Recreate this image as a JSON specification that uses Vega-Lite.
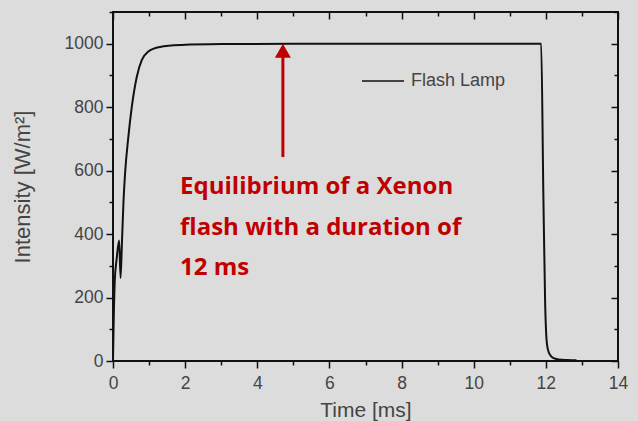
{
  "$schema": "https://vega.github.io/schema/vega-lite/v6.json",
  "width": 505,
  "height": 349,
  "autosize": "none",
  "padding": {"left": 113, "top": 12, "right": 20, "bottom": 60},
  "background": "#dcdcdc",
  "config": {
    "view": {"stroke": "#111111", "strokeWidth": 2},
    "axis": {
      "domain": false,
      "grid": false,
      "tickColor": "#111111",
      "tickWidth": 1.5,
      "labelFont": "Liberation Sans",
      "labelFontSize": 17.5,
      "labelColor": "#444444",
      "titleFont": "Liberation Sans",
      "titleFontSize": 21,
      "titleFontWeight": "normal",
      "titleColor": "#444444"
    },
    "legend": {
      "labelFont": "Liberation Sans",
      "labelFontSize": 18,
      "labelColor": "#444444"
    }
  },
  "datasets": {
    "lamp": [
      {"t": 0, "I": 0, "series": "Flash Lamp"},
      {"t": 0.02, "I": 130, "series": "Flash Lamp"},
      {"t": 0.05, "I": 255, "series": "Flash Lamp"},
      {"t": 0.1, "I": 320, "series": "Flash Lamp"},
      {"t": 0.17, "I": 380, "series": "Flash Lamp"},
      {"t": 0.21, "I": 262, "series": "Flash Lamp"},
      {"t": 0.25, "I": 380, "series": "Flash Lamp"},
      {"t": 0.29, "I": 500, "series": "Flash Lamp"},
      {"t": 0.34, "I": 600, "series": "Flash Lamp"},
      {"t": 0.42, "I": 700, "series": "Flash Lamp"},
      {"t": 0.52, "I": 800, "series": "Flash Lamp"},
      {"t": 0.66, "I": 896, "series": "Flash Lamp"},
      {"t": 0.8, "I": 949, "series": "Flash Lamp"},
      {"t": 0.97, "I": 975, "series": "Flash Lamp"},
      {"t": 1.3, "I": 990, "series": "Flash Lamp"},
      {"t": 1.9, "I": 996, "series": "Flash Lamp"},
      {"t": 3, "I": 999, "series": "Flash Lamp"},
      {"t": 5, "I": 1000, "series": "Flash Lamp"},
      {"t": 11.87, "I": 1000, "series": "Flash Lamp"},
      {"t": 11.93, "I": 530, "series": "Flash Lamp"},
      {"t": 11.98, "I": 183, "series": "Flash Lamp"},
      {"t": 12.02, "I": 66, "series": "Flash Lamp"},
      {"t": 12.06, "I": 35, "series": "Flash Lamp"},
      {"t": 12.12, "I": 19, "series": "Flash Lamp"},
      {"t": 12.2, "I": 10, "series": "Flash Lamp"},
      {"t": 12.35, "I": 5, "series": "Flash Lamp"},
      {"t": 12.6, "I": 3, "series": "Flash Lamp"},
      {"t": 12.85, "I": 2, "series": "Flash Lamp"}
    ],
    "arrow": [
      {"t": 4.71, "I": 643, "I2": 972}
    ],
    "head": [
      {"t": 4.71, "I": 978}
    ],
    "note": [
      {"t": 1.86, "I": 526, "label": ["Equilibrium of a Xenon", "flash with a duration of", "12 ms"]}
    ]
  },
  "layer": [
    {
      "data": {"name": "lamp"},
      "mark": {"type": "line", "strokeWidth": 2, "interpolate": "monotone"},
      "encoding": {
        "x": {
          "field": "t", "type": "quantitative",
          "scale": {"domain": [0, 14], "nice": false, "zero": false},
          "axis": {
            "orient": "bottom",
            "title": "Time [ms]",
            "values": [0, 1, 2, 3, 4, 5, 6, 7, 8, 9, 10, 11, 12, 13, 14],
            "labelExpr": "datum.value % 2 === 0 ? datum.label : ''",
            "tickSize": {"condition": {"test": "datum.value % 2 === 0", "value": 7}, "value": 4},
            "labelPadding": 6,
            "titlePadding": 8,
            "labelFlush": false
          }
        },
        "y": {
          "field": "I", "type": "quantitative",
          "scale": {"domain": [0, 1100], "nice": false},
          "axis": {
            "orient": "left",
            "title": "Intensity [W/m²]",
            "titleFontSize": 22,
            "values": [0, 100, 200, 300, 400, 500, 600, 700, 800, 900, 1000, 1100],
            "labelExpr": "datum.value % 200 === 0 && datum.value <= 1000 ? datum.label : ''",
            "format": "d",
            "tickSize": {"condition": {"test": "datum.value % 200 === 0", "value": 7}, "value": 4},
            "labelPadding": 3,
            "titlePadding": 30,
            "labelFlush": false
          }
        },
        "color": {
          "field": "series", "type": "nominal",
          "scale": {"domain": ["Flash Lamp"], "range": ["#111111"]},
          "legend": {
            "title": null,
            "orient": "none",
            "legendX": 248,
            "legendY": 47,
            "symbolType": "stroke",
            "symbolSize": 1764,
            "symbolStrokeWidth": 1.5,
            "labelOffset": 6,
            "padding": 0
          }
        }
      }
    },
    {
      "data": {"name": "arrow"},
      "mark": {"type": "rule", "color": "#c00000", "strokeWidth": 3},
      "encoding": {
        "x": {
          "field": "t", "type": "quantitative",
          "axis": {
            "orient": "top",
            "title": null,
            "labels": false,
            "values": [0, 1, 2, 3, 4, 5, 6, 7, 8, 9, 10, 11, 12, 13, 14],
            "tickSize": {"condition": {"test": "datum.value % 2 === 0", "value": -7}, "value": -4}
          }
        },
        "y": {
          "field": "I", "type": "quantitative",
          "axis": {
            "orient": "right",
            "title": null,
            "labels": false,
            "values": [0, 100, 200, 300, 400, 500, 600, 700, 800, 900, 1000, 1100],
            "tickSize": {"condition": {"test": "datum.value % 200 === 0", "value": -7}, "value": -4}
          }
        },
        "y2": {"field": "I2"}
      }
    },
    {
      "data": {"name": "head"},
      "mark": {"type": "point", "shape": "triangle-up", "filled": true, "color": "#c00000", "size": 256, "opacity": 1},
      "encoding": {
        "x": {"field": "t", "type": "quantitative", "axis": null},
        "y": {"field": "I", "type": "quantitative", "axis": null}
      }
    },
    {
      "data": {"name": "note"},
      "mark": {"type": "text", "align": "left", "baseline": "alphabetic", "font": "Open Sans", "fontWeight": "bold", "fontSize": 24, "lineHeight": 40.5, "color": "#c00000"},
      "encoding": {
        "x": {"field": "t", "type": "quantitative", "axis": null},
        "y": {"field": "I", "type": "quantitative", "axis": null},
        "text": {"field": "label"}
      }
    }
  ],
  "resolve": {"axis": {"x": "independent", "y": "independent"}}
}
